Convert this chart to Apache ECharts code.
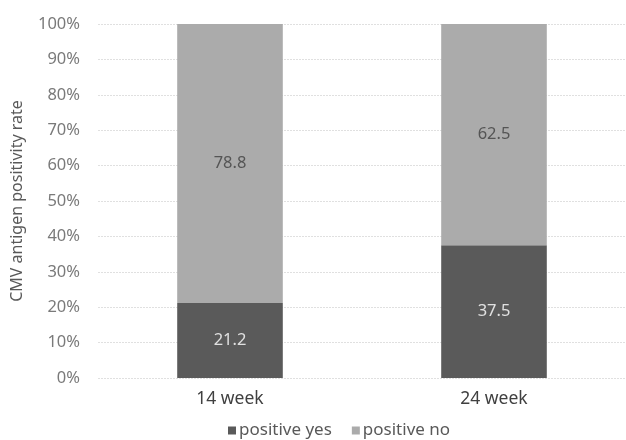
<!DOCTYPE html>
<html><head><meta charset="utf-8">
<script src="https://cdn.jsdelivr.net/npm/echarts@6/dist/echarts.min.js"></script>
<style>html,body{margin:0;padding:0;background:#fff}#c{width:626px;height:440px}</style>
</head><body><div id="c"></div>
<script>
const categories = ['14 week', '24 week'];
const positiveYes = [21.2, 37.5];
const positiveNo = [78.8, 62.5];
const yTicks = [0, 10, 20, 30, 40, 50, 60, 70, 80, 90, 100];

const chart = echarts.init(document.getElementById('c'));
const font = 'Noto Sans, Roboto, sans-serif';
chart.setOption({
  animation: false,
  textStyle: { fontFamily: font },
  grid: { left: 98, right: -3, top: 24, bottom: 62 },
  legend: {
    top: 422, left: 228, padding: 0, itemWidth: 8, itemHeight: 8, itemGap: 20,
    icon: 'rect',
    textStyle: { fontSize: 17, color: '#595959', fontFamily: font, padding: [0, 0, 0, -2] },
    data: ['positive yes', 'positive no']
  },
  xAxis: {
    type: 'category', data: categories,
    axisLine: { show: false }, axisTick: { show: false },
    axisLabel: { fontSize: 17.5, color: '#404040', margin: 12 }
  },
  yAxis: {
    type: 'value', min: 0, max: 100, interval: 10,
    name: 'CMV antigen positivity rate', nameLocation: 'middle', nameGap: 73,
    nameTextStyle: { fontSize: 16, color: '#595959' },
    axisLabel: { fontSize: 16.5, color: '#7a7a7a', margin: 18, formatter: v => yTicks.includes(v) ? v + '%' : '' },
    splitLine: { lineStyle: { color: '#e0e0e0', type: [2, 1], width: 1 } },
    axisLine: { show: false }, axisTick: { show: false }
  },
  series: [
    { name: 'positive yes', type: 'bar', stack: 's', data: positiveYes, barWidth: '40%',
      itemStyle: { color: '#5a5a5a' },
      label: { show: true, position: 'inside', fontSize: 16.5, color: '#e0e0e0', formatter: p => p.value.toFixed(1) } },
    { name: 'positive no', type: 'bar', stack: 's', data: positiveNo, barWidth: '40%',
      itemStyle: { color: '#ababab' },
      label: { show: true, position: 'inside', fontSize: 16.5, color: '#555555', formatter: p => p.value.toFixed(1) } }
  ]
});
</script></body></html>
